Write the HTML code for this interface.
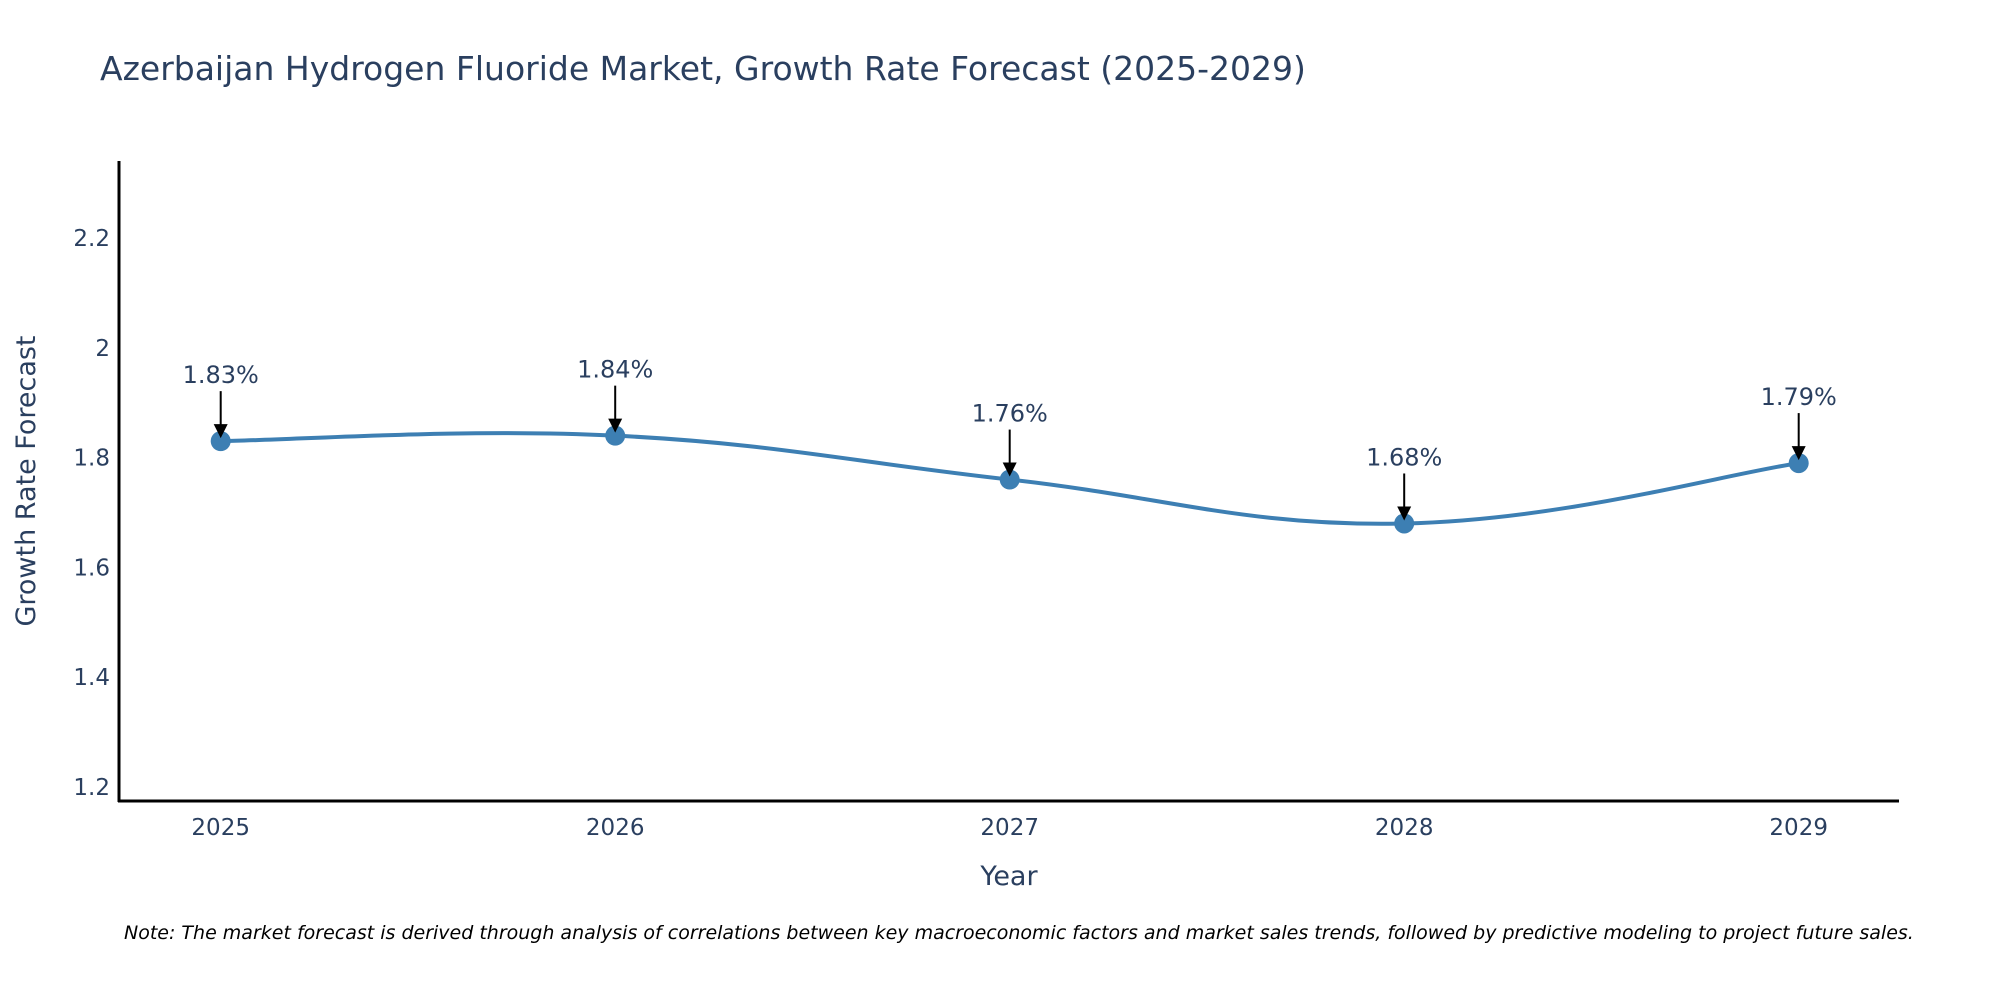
<!DOCTYPE html>
<html><head><meta charset="utf-8"><style>
body{margin:0;background:#fff;}
svg{display:block;font-family:"DejaVu Sans","Liberation Sans",sans-serif;}
</style></head><body>
<svg id="chart" width="2000" height="1000" viewBox="0 0 2000 1000">
<text x="100" y="80" font-size="33" fill="#2a3f5f">Azerbaijan Hydrogen Fluoride Market, Growth Rate Forecast (2025-2029)</text>
<g id="yticks"></g><g id="xticks"></g>
<line x1="119" y1="161" x2="119" y2="802" stroke="#000" stroke-width="3"/>
<line x1="118" y1="801" x2="1899" y2="801" stroke="#000" stroke-width="3"/>
<text transform="translate(35,481) rotate(-90)" text-anchor="middle" font-size="27" fill="#2a3f5f">Growth Rate Forecast</text>
<text x="1009" y="885" text-anchor="middle" font-size="27" fill="#2a3f5f">Year</text>
<g id="series"></g>
<text x="124" y="939" font-size="19" font-style="italic" fill="#000">Note: The market forecast is derived through analysis of correlations between key macroeconomic factors and market sales trends, followed by predictive modeling to project future sales.</text>
</svg>
<script>
const years=["2025","2026","2027","2028","2029"];
const rates=[1.83,1.84,1.76,1.68,1.79];
const yTicks=[1.2,1.4,1.6,1.8,2,2.2];
const NS="http://www.w3.org/2000/svg";
const xs=i=>220.7+i*394.5;
const ys=v=>787-(v-1.2)*549;
function mk(tag,attrs,parent){const e=document.createElementNS(NS,tag);for(const k in attrs)e.setAttribute(k,attrs[k]);parent.appendChild(e);return e;}
const yt=document.getElementById('yticks');
yTicks.forEach(v=>{const t=mk('text',{x:110,y:ys(v)+8,'text-anchor':'end','font-size':23,fill:'#2a3f5f'},yt);


t.textContent=String(v);});
const xt=document.getElementById('xticks');
years.forEach((y,i)=>{const t=mk('text',{x:xs(i),y:835,'text-anchor':'middle','font-size':23,fill:'#2a3f5f'},xt);


t.textContent=y;});
const g=document.getElementById('series');
const P=rates.map((v,i)=>[xs(i),ys(v)]);
let d=`M${P[0][0]},${P[0][1]}`;const s=0.2;
for(let i=0;i<P.length-1;i++){const p0=P[Math.max(0,i-1)],p1=P[i],p2=P[i+1],p3=P[Math.min(P.length-1,i+2)];
const c1=[p1[0]+(p2[0]-p0[0])*s,p1[1]+(p2[1]-p0[1])*s],c2=[p2[0]-(p3[0]-p1[0])*s,p2[1]-(p3[1]-p1[1])*s];
d+=` C${c1[0]},${c1[1]} ${c2[0]},${c2[1]} ${p2[0]},${p2[1]}`;}
const line=mk('path',{d:d,fill:'none',stroke:'#3d7fb3','stroke-width':4},g);


P.forEach((p,i)=>{const c=mk('circle',{cx:p[0],cy:p[1],r:10,fill:'#3d7fb3'},g);


const a=mk('line',{x1:p[0],y1:p[1]-50,x2:p[0],y2:p[1]-14,stroke:'#000','stroke-width':2},g);


const h=mk('polygon',{points:`${p[0]-7},${p[1]-17} ${p[0]+7},${p[1]-17} ${p[0]},${p[1]-3}`,fill:'#000'},g);


const t=mk('text',{x:p[0],y:p[1]-58,'text-anchor':'middle','font-size':24,fill:'#2a3f5f'},g);


t.textContent=rates[i].toFixed(2)+'%';});
</script>
</body></html>
